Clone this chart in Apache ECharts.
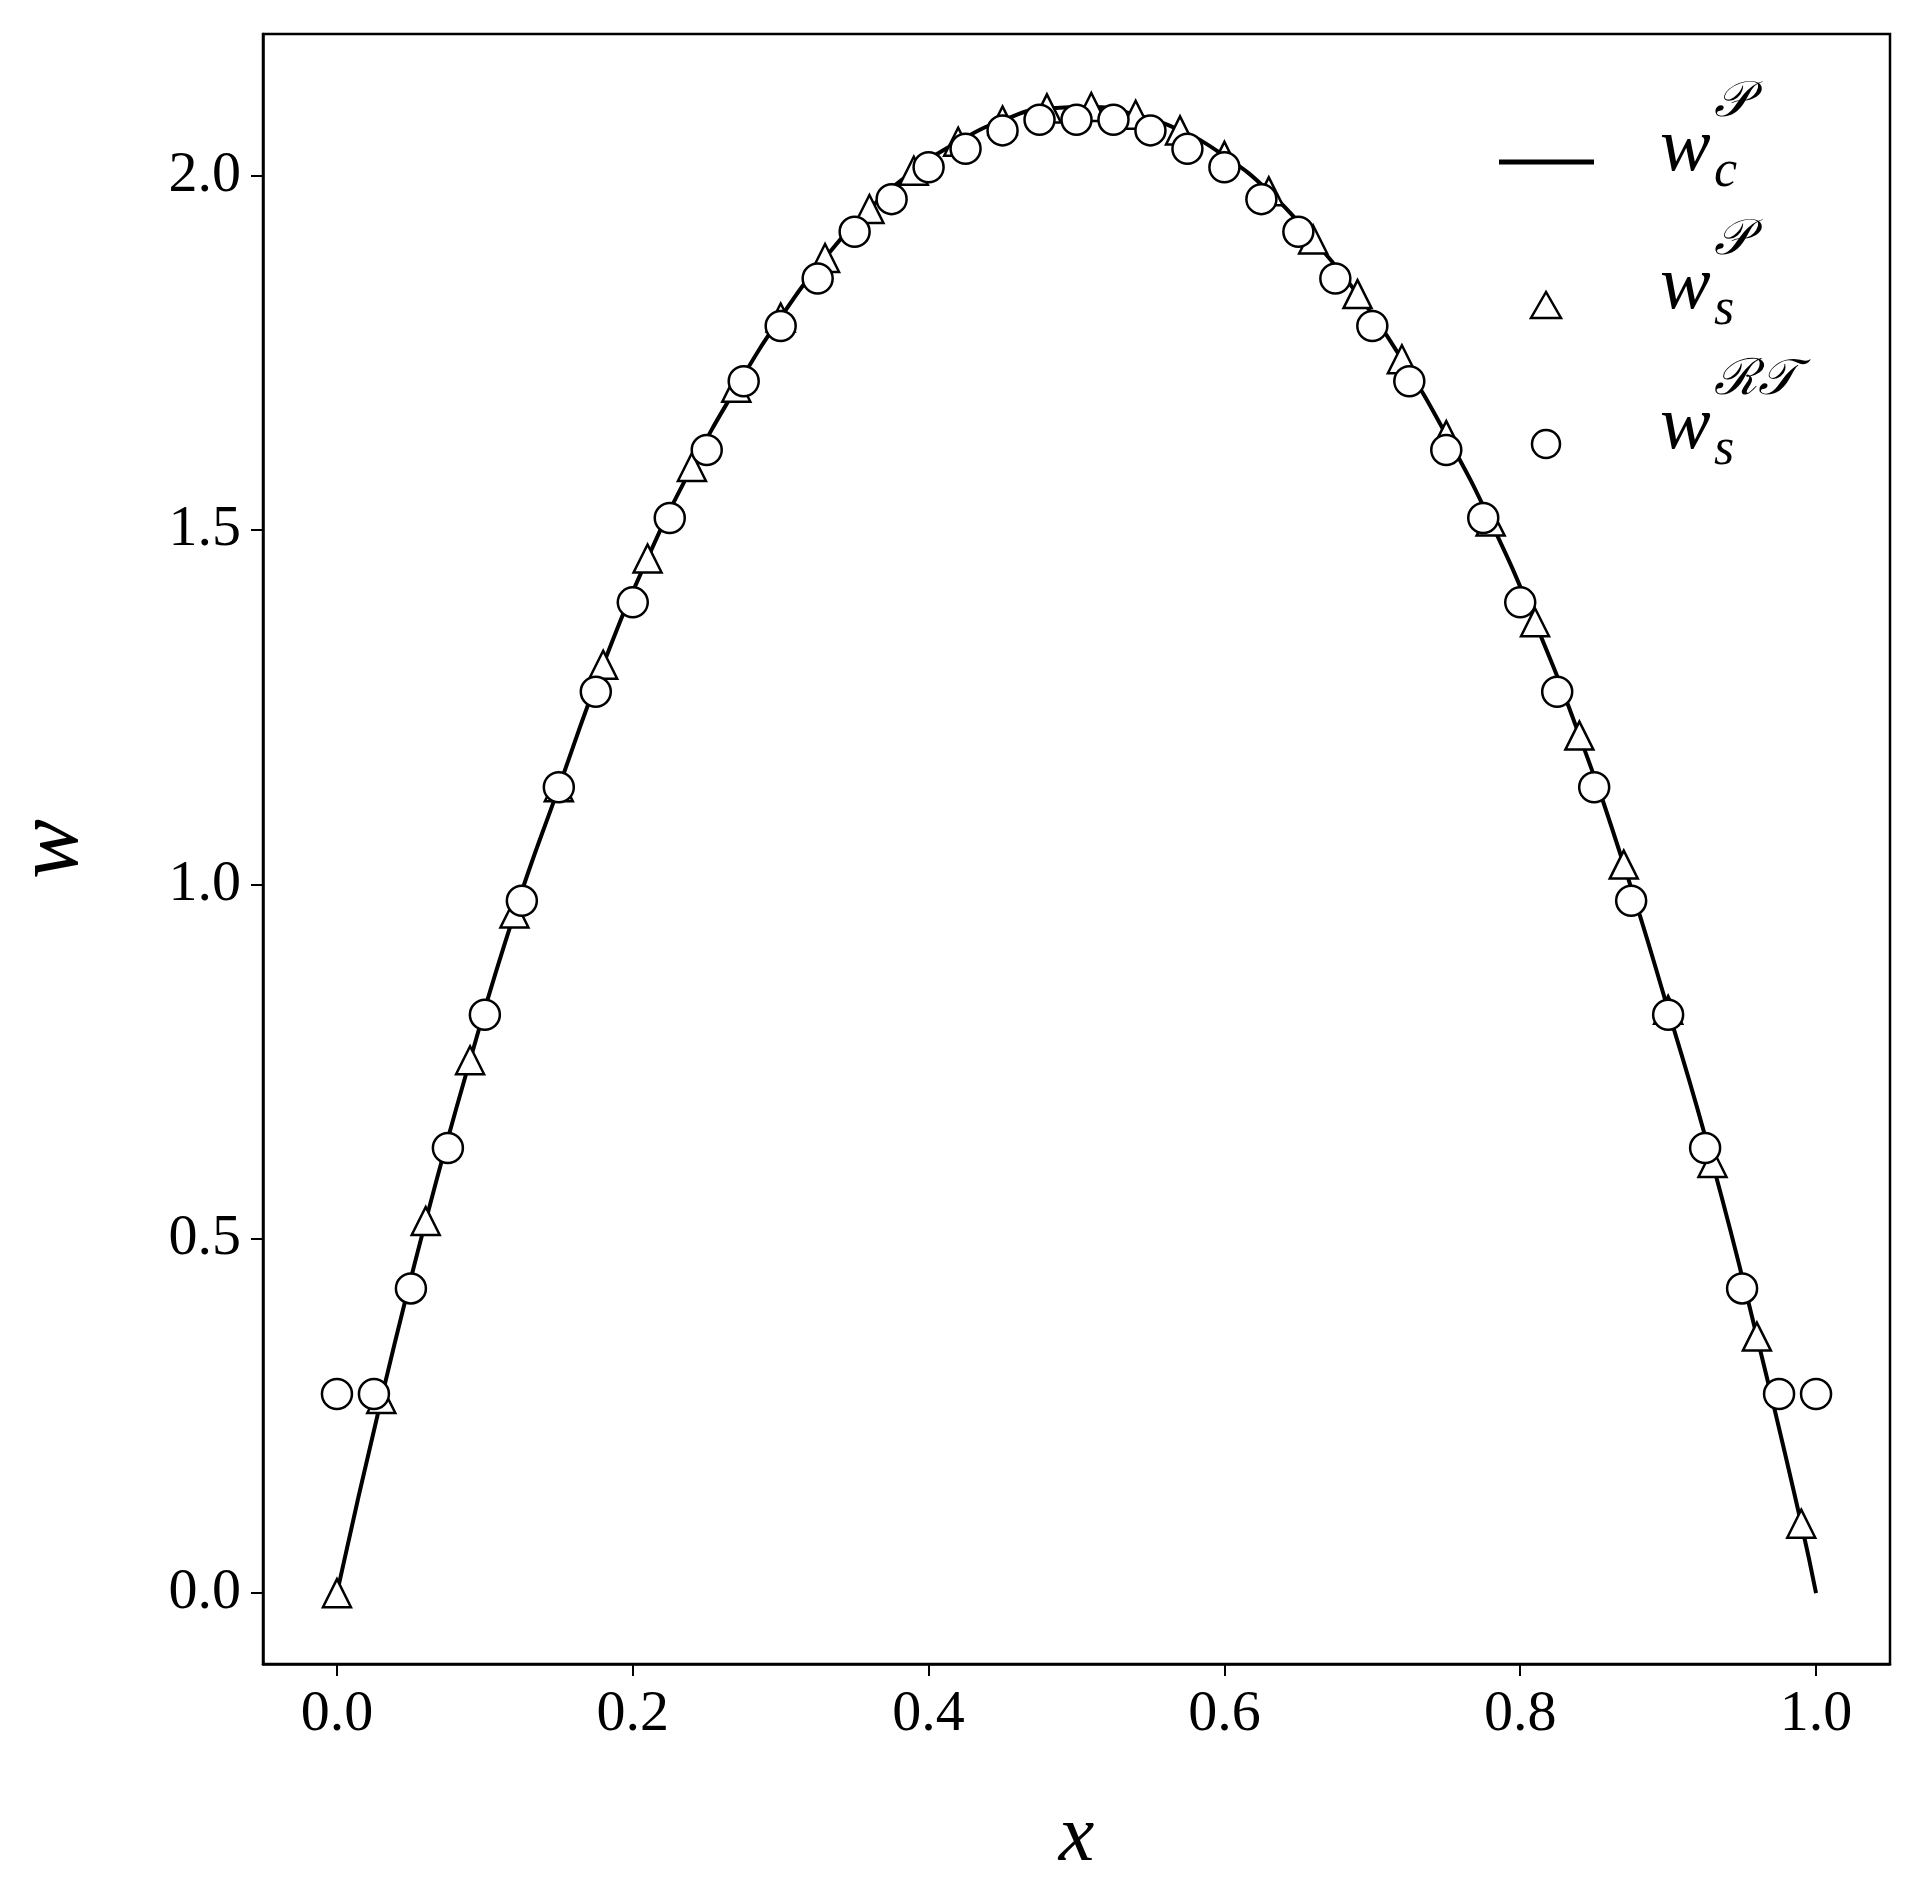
<!DOCTYPE html>
<html><head><meta charset="utf-8">
<script src="https://cdn.jsdelivr.net/npm/echarts@6/dist/echarts.min.js"></script>
<style>html,body{margin:0;background:#fff}#c{width:1917px;height:1884px}</style>
</head><body><div id="c"></div>
<script>
const triX = [0,0.03,0.06,0.09,0.12,0.15,0.18,0.21,0.24,0.27,0.30,0.33,0.36,0.39,0.42,0.45,0.48,0.51,0.54,0.57,0.60,0.63,0.66,0.69,0.72,0.75,0.78,0.81,0.84,0.87,0.90,0.93,0.96,0.99];
const triY = [0,0.274,0.525,0.752,0.959,1.137,1.31,1.46,1.589,1.701,1.80,1.884,1.953,2.007,2.048,2.078,2.095,2.097,2.086,2.064,2.028,1.978,1.910,1.833,1.741,1.634,1.512,1.370,1.210,1.028,0.823,0.607,0.362,0.098];
const lineX = triX.concat([1.0]);
const lineY = triY.concat([0]);
const cirX = [0,0.025,0.05,0.075,0.1,0.125,0.15,0.175,0.2,0.225,0.25,0.275,0.3,0.325,0.35,0.375,0.4,0.425,0.45,0.475,0.5,0.525,0.55,0.575,0.6,0.625,0.65,0.675,0.7,0.725,0.75,0.775,0.8,0.825,0.85,0.875,0.9,0.925,0.95,0.975,1.0];
const cirY = [0.281,0.281,0.43,0.628,0.816,0.977,1.137,1.272,1.398,1.517,1.613,1.71,1.788,1.855,1.921,1.967,2.012,2.038,2.064,2.079,2.079,2.079,2.064,2.038,2.012,1.967,1.921,1.855,1.788,1.71,1.613,1.517,1.398,1.272,1.137,0.977,0.816,0.628,0.43,0.281,0.281];
const xTicks = [0,0.2,0.4,0.6,0.8,1.0];
const yTicks = [0,0.5,1.0,1.5,2.0];
const zip=(a,b)=>a.map((v,i)=>[v,b[i]]);
const F='Liberation Serif';
const chart = echarts.init(document.getElementById('c'));
function lbl(y, sub, sup){
  return {type:'group', x:1660, y:y, children:[
    {type:'text', x:0, y:0, style:{text:'w', font:'italic 76px "'+F+'"', fill:'#000'}},
    {type:'text', x:54, y:-34, style:{text:sup, font:'italic 50px "'+F+'"', fill:'#000'}},
    {type:'text', x:54, y:34, style:{text:sub, font:'italic 52px "'+F+'"', fill:'#000'}}
  ]};
}
const mk={color:'#fff',borderColor:'#000',borderWidth:2.5,opacity:1};
chart.setOption({
  animation:false,
  grid:{left:240,right:27,top:34,bottom:210,show:true,borderColor:'#000',borderWidth:2.5,backgroundColor:'transparent'},
  xAxis:{type:'value',min:-0.05,max:1.05,
    axisLine:{onZero:false,lineStyle:{color:'#000',width:2.5}},
    axisTick:{show:true,length:12,lineStyle:{width:2},customValues:xTicks},
    splitLine:{show:false},
    axisLabel:{color:'#000',fontFamily:F,fontSize:58,margin:22,
      customValues:xTicks, formatter:v=>v.toFixed(1)},
    name:'x',nameLocation:'middle',nameGap:135,
    nameTextStyle:{fontFamily:F,fontStyle:'italic',fontSize:80,color:'#000'}},
  yAxis:{type:'value',min:-0.1,max:2.2,
    axisLine:{onZero:false,lineStyle:{color:'#000',width:2.5}},
    axisTick:{show:true,length:12,lineStyle:{width:2},customValues:yTicks},
    splitLine:{show:false},
    axisLabel:{color:'#000',fontFamily:F,fontSize:58,margin:22,
      customValues:yTicks, formatter:v=>v.toFixed(1)},
    name:'w',nameLocation:'middle',nameGap:165,
    nameTextStyle:{fontFamily:F,fontStyle:'italic',fontSize:90,color:'#000'}},
  graphic:[
    {type:'line',shape:{x1:1499,y1:162,x2:1594,y2:162},style:{stroke:'#000',lineWidth:5}},
    {type:'polygon',shape:{points:[[1546,292],[1531,318],[1561,318]]},style:{fill:'#fff',stroke:'#000',lineWidth:2.5}},
    {type:'circle',shape:{cx:1546,cy:444,r:14},style:{fill:'#fff',stroke:'#000',lineWidth:2.5}},
    lbl(112,'c','𝒫'),lbl(250,'s','𝒫'),lbl(390,'s','ℛ𝒯')],
  series:[
    {name:'wcP',type:'line',data:zip(lineX,lineY),smooth:true,showSymbol:false,
      lineStyle:{color:'#000',width:4},itemStyle:{color:'#000'},z:1},
    {name:'wsP',type:'scatter',data:zip(triX,triY),symbol:'triangle',symbolSize:28,itemStyle:mk,z:2},
    {name:'wsRT',type:'scatter',data:zip(cirX,cirY),symbol:'circle',symbolSize:30,itemStyle:mk,z:3}
  ]
});
</script></body></html>
